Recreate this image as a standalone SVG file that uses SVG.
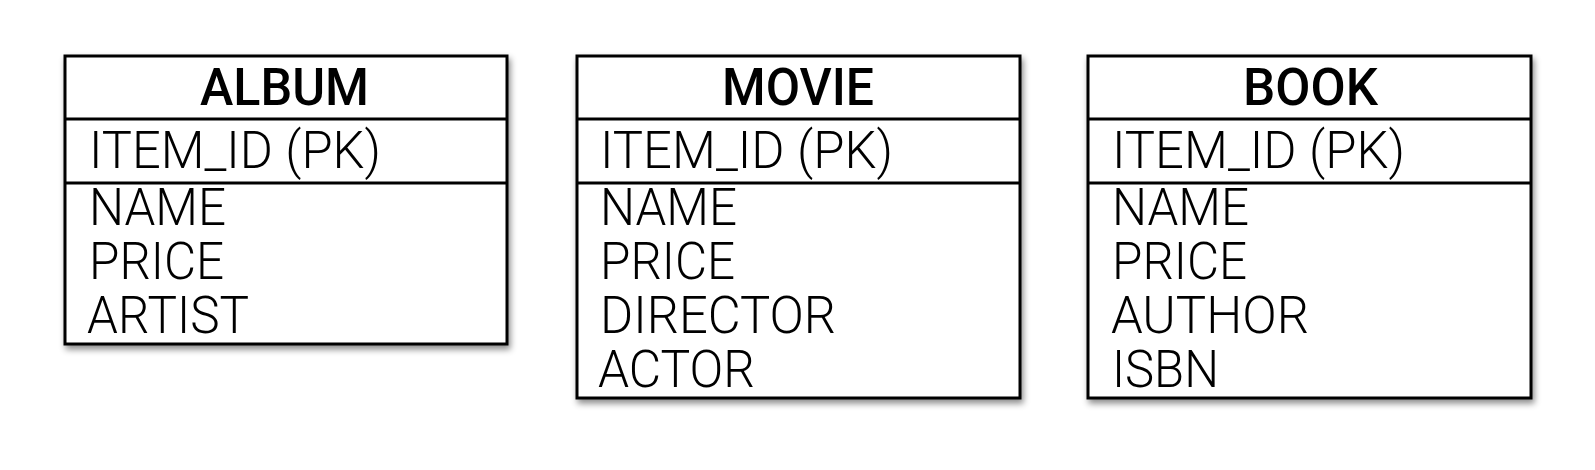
<svg xmlns="http://www.w3.org/2000/svg" width="1595" height="470" viewBox="0 0 1595 470">
<style>
.box{fill:#fff;stroke:#000;stroke-width:3}
.sep{stroke:#000;stroke-width:3}
.title{font-family:Roboto,"Liberation Sans",sans-serif;font-weight:500;font-size:51px;fill:#000}
.attr{font-family:Roboto,"Liberation Sans",sans-serif;font-weight:300;font-size:52px;fill:#000}
</style>
<defs>
<filter id="sh" x="-10%" y="-10%" width="120%" height="130%">
<feDropShadow dx="2" dy="4" stdDeviation="3" flood-color="#000" flood-opacity="0.45"/>
</filter>
</defs>
<g id="album">
<rect class="box" x="65" y="56" width="442" height="288" filter="url(#sh)"/>
<line class="sep" x1="65" y1="119" x2="507" y2="119"/>
<line class="sep" x1="65" y1="183" x2="507" y2="183"/>
<text class="title" x="200" y="105" textLength="169" lengthAdjust="spacingAndGlyphs">ALBUM</text>
<text class="attr" x="89" y="168" textLength="292" lengthAdjust="spacingAndGlyphs">ITEM_ID (PK)</text>
<text class="attr" x="89" y="225" textLength="137" lengthAdjust="spacingAndGlyphs">NAME</text>
<text class="attr" x="89" y="279" textLength="135" lengthAdjust="spacingAndGlyphs">PRICE</text>
<text class="attr" x="87" y="333" textLength="162" lengthAdjust="spacingAndGlyphs">ARTIST</text>
</g>
<g id="movie">
<rect class="box" x="577" y="56" width="443" height="342" filter="url(#sh)"/>
<line class="sep" x1="577" y1="119" x2="1020" y2="119"/>
<line class="sep" x1="577" y1="183" x2="1020" y2="183"/>
<text class="title" x="722" y="105" textLength="152" lengthAdjust="spacingAndGlyphs">MOVIE</text>
<text class="attr" x="600" y="168" textLength="293" lengthAdjust="spacingAndGlyphs">ITEM_ID (PK)</text>
<text class="attr" x="600" y="225" textLength="137" lengthAdjust="spacingAndGlyphs">NAME</text>
<text class="attr" x="600" y="279" textLength="135" lengthAdjust="spacingAndGlyphs">PRICE</text>
<text class="attr" x="600" y="333" textLength="236" lengthAdjust="spacingAndGlyphs">DIRECTOR</text>
<text class="attr" x="598" y="387" textLength="157" lengthAdjust="spacingAndGlyphs">ACTOR</text>
</g>
<g id="book">
<rect class="box" x="1088" y="56" width="443" height="342" filter="url(#sh)"/>
<line class="sep" x1="1088" y1="119" x2="1531" y2="119"/>
<line class="sep" x1="1088" y1="183" x2="1531" y2="183"/>
<text class="title" x="1243" y="105" textLength="135" lengthAdjust="spacingAndGlyphs">BOOK</text>
<text class="attr" x="1112" y="168" textLength="293" lengthAdjust="spacingAndGlyphs">ITEM_ID (PK)</text>
<text class="attr" x="1112" y="225" textLength="137" lengthAdjust="spacingAndGlyphs">NAME</text>
<text class="attr" x="1112" y="279" textLength="135" lengthAdjust="spacingAndGlyphs">PRICE</text>
<text class="attr" x="1111" y="333" textLength="198" lengthAdjust="spacingAndGlyphs">AUTHOR</text>
<text class="attr" x="1112" y="387" textLength="107" lengthAdjust="spacingAndGlyphs">ISBN</text>
</g>
<g id="connectors"></g>
</svg>
